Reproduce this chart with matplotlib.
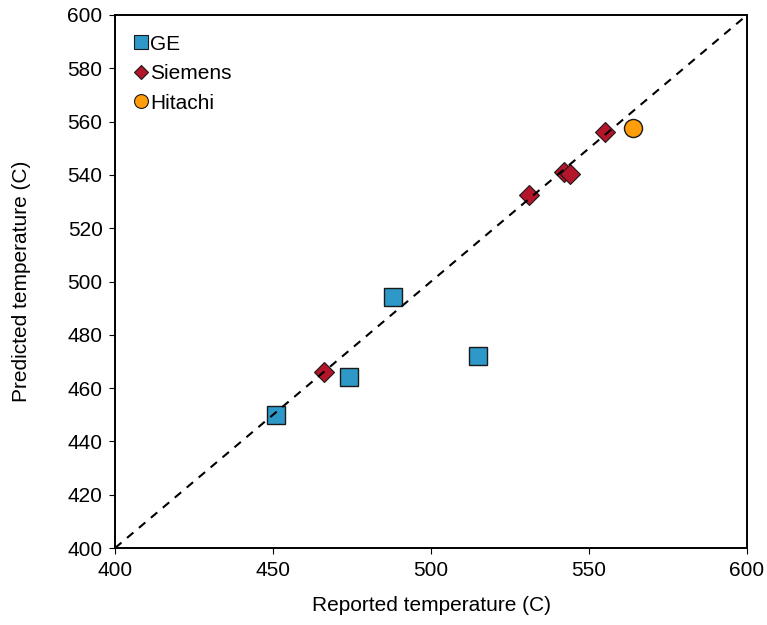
import matplotlib
matplotlib.use("Agg")
import matplotlib.pyplot as plt
from matplotlib.lines import Line2D

plt.rcParams['font.family'] = ['Liberation Sans', 'DejaVu Sans']

ge_x = [451, 474, 488, 515]
ge_y = [450, 464, 494, 472]
siemens_x = [466, 531, 542, 544, 555]
siemens_y = [466, 532.5, 541, 540.5, 556]
hitachi_x = [564]
hitachi_y = [557.5]
diag = [400, 600]

fig = plt.figure(figsize=(7.67, 6.25), dpi=100)
ax = fig.add_axes([0.15, 0.1232, 0.824, 0.8528])

ax.plot(ge_x, ge_y, linestyle='none', marker='s', markersize=12.5,
        markerfacecolor='#2E98C8', markeredgecolor='#1a1a1a', markeredgewidth=1.0, zorder=2)
ax.plot(siemens_x, siemens_y, linestyle='none', marker='D', markersize=10,
        markerfacecolor='#B3152A', markeredgecolor='#1a1a1a', markeredgewidth=0.8, zorder=2)
ax.plot(hitachi_x, hitachi_y, linestyle='none', marker='o', markersize=13,
        markerfacecolor='#FF9D0A', markeredgecolor='#1a1a1a', markeredgewidth=1.0, zorder=2)
ax.plot(diag, diag, linestyle=(0, (4, 3.5)), color='black', linewidth=1.5, zorder=3)

ax.set_xlim(400, 600)
ax.set_ylim(400, 600)
ax.set_xticks(range(400, 601, 50))
ax.set_yticks(range(400, 601, 20))
ax.tick_params(direction='out', length=4, labelsize=15, width=0.8, pad=5)
for s in ax.spines.values():
    s.set_linewidth(1.4)
ax.set_xlabel('Reported temperature (C)', fontsize=15, labelpad=12)
ax.set_ylabel('Predicted temperature (C)', fontsize=15, labelpad=26)

handles = [
    Line2D([], [], linestyle='none', marker='s', markersize=9.5, markerfacecolor='#2E98C8',
           markeredgecolor='#1a1a1a', markeredgewidth=0.8),
    Line2D([], [], linestyle='none', marker='D', markersize=7.5, markerfacecolor='#B3152A',
           markeredgecolor='#1a1a1a', markeredgewidth=0.8),
    Line2D([], [], linestyle='none', marker='o', markersize=10, markerfacecolor='#FF9D0A',
           markeredgecolor='#1a1a1a', markeredgewidth=0.8),
]
ax.legend(handles, ['GE', 'Siemens', 'Hitachi'], loc='upper left', frameon=False,
          fontsize=15, handlelength=0.6, handletextpad=0.15, labelspacing=0.5,
          borderaxespad=0.6, borderpad=0.35)

fig.savefig('out.png', dpi=100)
